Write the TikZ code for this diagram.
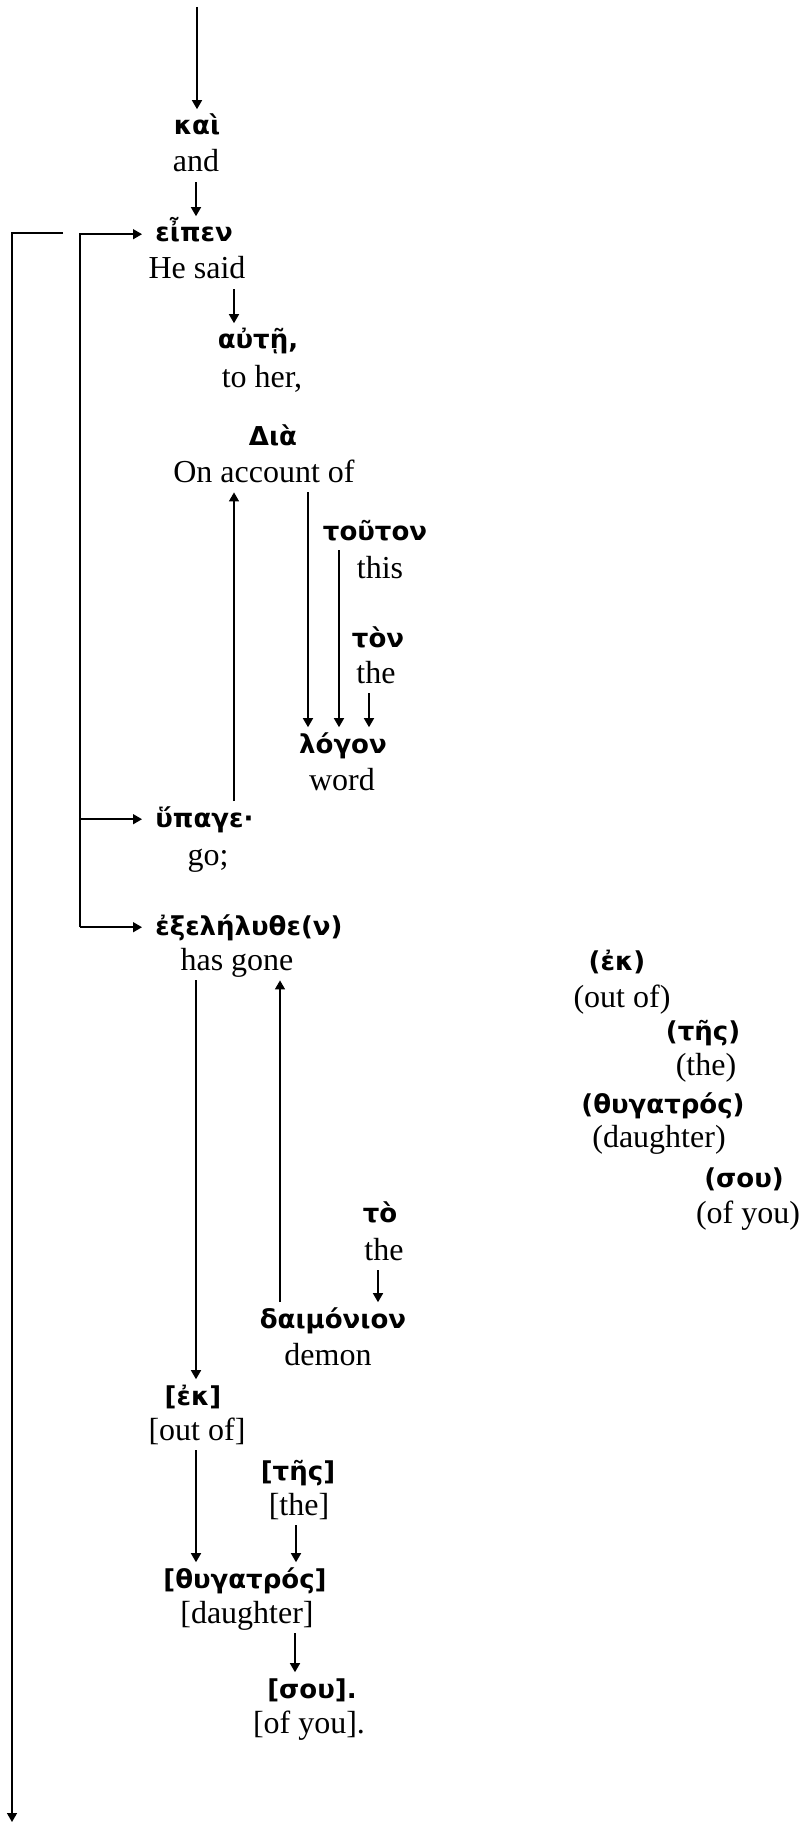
\documentclass[tikz,border=0pt]{standalone}
\usepackage{fontspec}
\setmainfont{Liberation Serif}
\newfontfamily\grk{DejaVu Sans}
\usetikzlibrary{arrows.meta}

\tikzset{
  gr/.style={font=\grk\bfseries\fontsize{13}{15}\selectfont, anchor=base, inner sep=1pt, text height=11.7pt, text depth=3.9pt},
  en/.style={font=\fontsize{16}{19}\selectfont, anchor=base, inner sep=1pt, text height=11.2pt, text depth=4pt},
  arr/.style={line width=0.75pt, -{Triangle[length=4.5pt,width=5pt]}},
}

\begin{document}
\begin{tikzpicture}[x=0.5pt, y=-0.5pt]
 \useasboundingbox (0,0) rectangle (803,1824);

 % main line
 \coordinate (start) at (197,7);
 \node[gr] (kai) at (197,135) {καὶ};
 \node[en] (kai-en) at (196,172) {and};
 \node[gr, anchor=base west] (eipen) at (153,242) {εἶπεν};
 \node[en] (eipen-en) at (197,279) {He said};
 \node[gr] (aute) at (258,349) {αὐτῇ,};
 \node[en] (aute-en) at (262,387) {to her,};

 \node[gr] (dia) at (273,445) {Διὰ};
 \node[en] (dia-en) at (264,482) {On account of};
 \node[gr] (touton) at (375,540) {τοῦτον};
 \node[en] (touton-en) at (380,578) {this};
 \node[gr] (ton) at (378,647) {τὸν};
 \node[en] (ton-en) at (376,683) {the};
 \node[gr] (logon) at (343,753) {λόγον};
 \node[en] (logon-en) at (342,790) {word};

 \node[gr, anchor=base west] (hupage) at (153,827) {ὕπαγε·};
 \node[en] (hupage-en) at (208,865) {go;};
 \node[gr, anchor=base west] (exel) at (153,935) {ἐξελήλυθε(ν)};
 \node[en] (exel-en) at (237,970) {has gone};

 % words in parentheses
 \node[gr] (ek1) at (617,970) {(ἐκ)};
 \node[en] (ek1-en) at (622,1007) {(out of)};
 \node[gr] (tes1) at (703,1040) {(τῆς)};
 \node[en] (tes1-en) at (706,1075) {(the)};
 \node[gr] (thug1) at (663,1113) {(θυγατρός)};
 \node[en] (thug1-en) at (659,1147) {(daughter)};
 \node[gr] (sou1) at (744,1187) {(σου)};
 \node[en] (sou1-en) at (748,1223) {(of you)};

 \node[gr] (to) at (380,1222) {τὸ};
 \node[en] (to-en) at (384,1260) {the};
 \node[gr] (daim) at (333,1328) {δαιμόνιον};
 \node[en] (daim-en) at (328,1365) {demon};

 % words in brackets
 \node[gr] (ek2) at (193,1405) {[ἐκ]};
 \node[en] (ek2-en) at (197,1440) {[out of]};
 \node[gr] (tes2) at (298,1480) {[τῆς]};
 \node[en] (tes2-en) at (299,1515) {[the]};
 \node[gr] (thug2) at (245,1588) {[θυγατρός]};
 \node[en] (thug2-en) at (247,1623) {[daughter]};
 \node[gr] (sou2) at (312,1698) {[σου].};
 \node[en] (sou2-en) at (309,1733) {[of you].};

 % arrows
 \draw[arr] (start) -- (kai.north);
 \draw[arr] (kai-en.south -| 196,0) -- (eipen.north -| 196,0);
 \draw[arr] (eipen-en.south -| 234,0) -- (aute.north -| 234,0);
 \draw[arr] (hupage.north -| 234,0) -- (dia-en.south -| 234,0);
 \draw[arr] (dia-en.south -| 308,0) -- (logon.north -| 308,0);
 \draw[arr] (touton.south -| 339,0) -- (logon.north -| 339,0);
 \draw[arr] (ton-en.south -| 369,0) -- (logon.north -| 369,0);

 \coordinate (fork) at (80,233);
 \draw[arr, shorten >=5.5pt] (exel.west -| fork) |- (eipen.west);
 \draw[arr, shorten >=5.5pt] (hupage.west -| fork) -- (hupage.west);
 \draw[arr, shorten >=5.5pt] (exel.west -| fork) -- (exel.west);

 \coordinate (back) at (63,233);
 \coordinate (out-end) at (12,1822);
 \draw[arr] (back) -| (out-end);

 \draw[arr] (daim.north -| 280,0) -- (exel-en.south -| 280,0);
 \draw[arr] (to-en.south -| 378,0) -- (daim.north -| 378,0);
 \draw[arr] (exel-en.south -| 196,0) -- (ek2.north -| 196,0);
 \draw[arr] (ek2-en.south -| 196,0) -- (thug2.north -| 196,0);
 \draw[arr] (tes2-en.south -| 296,0) -- (thug2.north -| 296,0);
 \draw[arr] (thug2-en.south -| 295,0) -- (sou2.north -| 295,0);
\end{tikzpicture}
\end{document}
